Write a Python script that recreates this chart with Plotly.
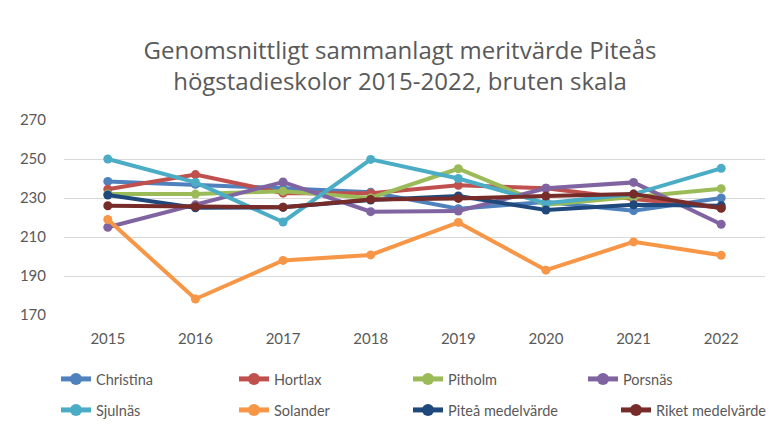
import plotly.graph_objects as go

years = ["2015", "2016", "2017", "2018", "2019", "2020", "2021", "2022"]

christina = [238.5, 237.0, 235.0, 233.0, 224.5, 228.0, 223.5, 230.0]
hortlax = [234.5, 242.0, 232.5, 232.5, 236.5, 235.0, 229.5, 225.0]
pitholm = [232.0, 232.0, 233.5, 230.0, 245.0, 226.5, 230.5, 234.8]
porsnas = [215.0, 226.5, 238.2, 223.0, 223.3, 235.0, 238.0, 216.5]
sjulnas = [250.0, 238.0, 217.7, 249.8, 240.0, 227.3, 232.0, 245.2]
solander = [219.0, 178.2, 198.0, 200.8, 217.5, 193.0, 207.5, 200.6]
pitea_medel = [231.5, 225.0, 225.2, 229.0, 231.0, 223.8, 226.5, 226.0]
riket_medel = [226.0, 225.5, 225.3, 229.2, 229.8, 231.0, 232.0, 224.7]

series_names = ["Christina", "Hortlax", "Pitholm", "Porsnäs", "Sjulnäs",
                "Solander", "Piteå medelvärde", "Riket medelvärde"]
series_values = [christina, hortlax, pitholm, porsnas, sjulnas,
                 solander, pitea_medel, riket_medel]
series_colors = ["#4F81BD", "#C0504D", "#9BBB59", "#8064A2", "#4BACC6",
                 "#F79646", "#1F497D", "#772C2A"]

y_ticks = [170, 190, 210, 230, 250, 270]

FONT = "Lato"
GREY = "#595959"

# legend placement (pixels in the 779x428 canvas): left edge x, row centre y
legend_x = [56, 234, 408, 583, 56, 234, 408, 616]
legend_y = [379, 379, 379, 379, 410, 410, 410, 410]

fig = go.Figure()
legends = {}
for i, (name, vals, col) in enumerate(zip(series_names, series_values, series_colors)):
    key = "legend" if i == 0 else f"legend{i + 1}"
    fig.add_trace(go.Scatter(
        x=years, y=vals, name=name, mode="lines+markers",
        line=dict(color=col, width=4),
        marker=dict(color=col, size=9, symbol="circle"),
        legend=key,
    ))
    legends[key] = dict(
        orientation="h", xref="container", yref="container",
        x=legend_x[i] / 779, xanchor="left",
        y=1 - legend_y[i] / 428, yanchor="middle",
        font=dict(family=FONT, size=14.5, color=GREY),
        itemsizing="constant", bgcolor="rgba(0,0,0,0)",
    )

fig.update_layout(
    width=779, height=428,
    paper_bgcolor="white", plot_bgcolor="white",
    margin=dict(l=64, r=14, t=120, b=113),
    font=dict(family=FONT, color=GREY, size=15),
    title=dict(
        text="Genomsnittligt sammanlagt meritvärde Piteås<br>högstadieskolor 2015-2022, bruten skala",
        x=400 / 779, xanchor="center", xref="container",
        y=1 - 59 / 428, yanchor="middle", yref="container",
        font=dict(family="Open Sans", size=24, color=GREY),
    ),
    xaxis=dict(
        type="category", range=[-0.5, 7.5],
        showgrid=False, zeroline=False, showline=False,
        ticks="outside", ticklen=10, tickcolor="rgba(0,0,0,0)",
        tickfont=dict(family=FONT, size=15, color=GREY),
    ),
    yaxis=dict(
        range=[170, 270], tickvals=y_ticks,
        showgrid=True, gridcolor="#D9D9D9", gridwidth=1,
        zeroline=False, showline=False,
        ticks="outside", ticklen=14, tickcolor="rgba(0,0,0,0)",
        tickfont=dict(family=FONT, size=15, color=GREY),
    ),
    showlegend=True,
    **legends,
)

fig.write_html("out.html", config={"displayModeBar": False},
               post_script="document.body.style.margin='0px';")
